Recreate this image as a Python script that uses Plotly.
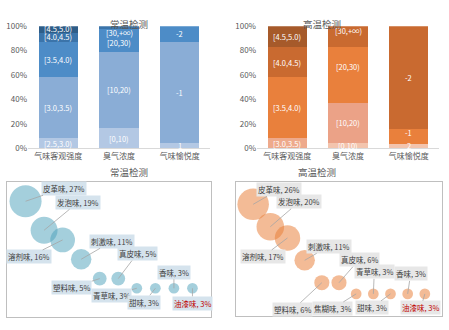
import plotly.graph_objects as go
import numpy as np

# ---------------- data ----------------
categories = ['气味客观强度', '臭气浓度', '气味愉悦度']

normal_labels = [['[2.5,3.0)', '[3.0,3.5)', '[3.5,4.0)', '[4.0,4.5)', '[4.5,5.0)'],
                 ['[0,10)', '[10,20)', '[20,30)', '[30,+∞)'],
                 ['1', '-1', '-2']]
normal_values = [[8, 50, 29.5, 7, 5.5],
                 [16.5, 62.5, 19, 2],
                 [4, 83.5, 12.5]]

high_labels = [['[3.0,3.5)', '[3.5,4.0)', '[4.0,4.5)', '[4.5,5.0)'],
               ['[0,10)', '[10,20)', '[20,30)', '[30,+∞)'],
               ['2', '-1', '-2']]
high_values = [[8, 50, 25.3, 16.7],
               [4, 33.3, 46, 16.7],
               [3.4, 12.6, 84]]

normal_odors = ['皮革味', '发泡味', '溶剂味', '刺激味', '塑料味', '真皮味', '青草味', '甜味', '香味', '油漆味']
normal_pct = [27, 19, 16, 11, 5, 5, 3, 3, 3, 3]
normal_level = [12, 9, 8, 6, 4, 4, 3, 3, 3, 3]

high_odors = ['皮革味', '发泡味', '溶剂味', '刺激味', '塑料味', '真皮味', '焦糊味', '青草味', '甜味', '香味', '油漆味']
high_pct = [26, 20, 17, 11, 6, 6, 3, 3, 3, 3, 3]
high_level = [12, 10, 9, 7, 5, 5, 4, 4, 4, 4, 4]

# ---------------- styles ----------------
FONT = 'Noto Sans CJK SC'
GREY = '#595959'
normal_colors = [['#b3c8e4', '#8aadd6', '#4d8cc7', '#3b74aa', '#2e5d88'],
                 ['#b3c8e4', '#8aadd6', '#4d8cc7', '#3b74aa'],
                 ['#b3c8e4', '#8aadd6', '#4d8cc7']]
high_colors = [['#eeaa8c', '#e9803c', '#c96a30', '#a65a2a'],
               ['#f3c4ad', '#eba287', '#e9803c', '#c96a30'],
               ['#f3c4ad', '#e9803c', '#c96a30']]
normal_nudge = [[0, 0, 0, 0.5, 0.6], [0, 0, -1.5, -4.5], [0, 0, 0]]
high_nudge = [[0, 0, 0, 0], [0, 0, 7, 5], [0.5, 3, 0]]

W, H = 449, 330
def px_x(a, b):
    return [a / W, b / W]
def px_y(top, bottom):
    return [1 - bottom / H, 1 - top / H]

fig = go.Figure()
annotations = []

def add_stack(values, labels, colors, nudges, xa, ya):
    nlev = max(len(v) for v in values)
    for lev in range(nlev):
        ys, cs = [], []
        for ci in range(len(categories)):
            if lev < len(values[ci]):
                ys.append(values[ci][lev]); cs.append(colors[ci][lev])
            else:
                ys.append(0); cs.append('rgba(0,0,0,0)')
        fig.add_trace(go.Bar(x=categories, y=ys, marker=dict(color=cs, line=dict(width=0)),
                             xaxis=xa, yaxis=ya, showlegend=False, hoverinfo='skip'))
    for ci in range(len(categories)):
        cum = np.cumsum([0] + values[ci])
        for lev, lab in enumerate(labels[ci]):
            mid = (cum[lev] + cum[lev + 1]) / 2 + nudges[ci][lev]
            annotations.append(dict(x=categories[ci], y=mid, xref=xa, yref=ya, text=lab,
                                    showarrow=False, font=dict(family=FONT, size=7.5, color='white')))

add_stack(normal_values, normal_labels, normal_colors, normal_nudge, 'x', 'y')
add_stack(high_values, high_labels, high_colors, high_nudge, 'x2', 'y2')

# bubble label offsets (px) and appearance
normal_off = [(38, -13), (34, -28), (-34, 17), (31, -18), (-28, 9), (19, -25), (-25, 7), (-11, 14), (0, -16), (0, 15)]
high_off = [(26, -15), (29, -25), (-25, 19), (24, -14), (-29, 27), (20, -23), (-24, 15), (1, -22), (-19, 14), (3, -20), (-4, 14)]

def add_bubbles(odors, pct, level, offs, color, bg, xa, ya):
    xs = list(range(1, len(odors) + 1))
    fig.add_trace(go.Scatter(x=xs, y=level, mode='markers', xaxis=xa, yaxis=ya,
                             marker=dict(size=pct, sizemode='area', sizeref=0.0525,
                                         color=color, line=dict(width=0)),
                             showlegend=False, hoverinfo='skip'))
    for i, (name, p) in enumerate(zip(odors, pct)):
        red = name == '油漆味'
        annotations.append(dict(x=xs[i], y=level[i], xref=xa, yref=ya,
                                text=f'{name}, {p}%', showarrow=True, arrowhead=0,
                                arrowwidth=0.8, arrowcolor='#a6a6a6', standoff=0,
                                ax=offs[i][0], ay=offs[i][1], bgcolor=bg, borderpad=1,
                                font=dict(family=FONT, size=7.5, color='#c00000' if red else '#404040')))

add_bubbles(normal_odors, normal_pct, normal_level, normal_off, 'rgba(75,160,185,0.72)', '#d5e3ed', 'x3', 'y3')
add_bubbles(high_odors, high_pct, high_level, high_off, 'rgba(232,125,55,0.75)', '#e7e7e7', 'x4', 'y4')

# titles
for txt, x, y in [('常温检测', 108, 9), ('高温检测', 343, 9), ('常温检测', 108, 172), ('高温检测', 338, 172)]:
    annotations.append(dict(x=x / W, y=1 - y / H, xref='paper', yref='paper', text=txt,
                            showarrow=False, font=dict(family=FONT, size=9.5, color=GREY)))

bar_x = dict(type='category', showline=True, linecolor='#d9d9d9', linewidth=1, ticks='',
             tickfont=dict(family=FONT, size=8, color=GREY), showgrid=False)
bar_y = dict(range=[0, 100], tickvals=[0, 20, 40, 60, 80, 100], ticktext=['0%', '20%', '40%', '60%', '80%', '100%'],
             showgrid=False, zeroline=False, showline=False, ticks='',
             tickfont=dict(family=FONT, size=8, color=GREY))
box_ax = dict(showline=True, mirror=True, linecolor='#bfbfbf', linewidth=1, showgrid=False,
              zeroline=False, showticklabels=False, ticks='')

fig.update_layout(
    width=W, height=H, margin=dict(l=0, r=0, t=0, b=0),
    paper_bgcolor='white', plot_bgcolor='white',
    barmode='stack', bargap=0.35,
    xaxis=dict(domain=px_x(28, 210), anchor='y', **bar_x),
    yaxis=dict(domain=px_y(21, 147), anchor='x', **bar_y),
    xaxis2=dict(domain=px_x(257, 439), anchor='y2', **bar_x),
    yaxis2=dict(domain=px_y(21, 147), anchor='x2', **bar_y),
    xaxis3=dict(domain=px_x(7, 211), anchor='y3', range=[0, 11], **box_ax),
    yaxis3=dict(domain=px_y(182, 322), anchor='x3', range=[0, 14], **box_ax),
    xaxis4=dict(domain=px_x(236, 442), anchor='y4', range=[0, 12], **box_ax),
    yaxis4=dict(domain=px_y(182, 321), anchor='x4', range=[2, 14], **box_ax),
    annotations=annotations,
    font=dict(family=FONT),
)

fig.write_html('out.html')
